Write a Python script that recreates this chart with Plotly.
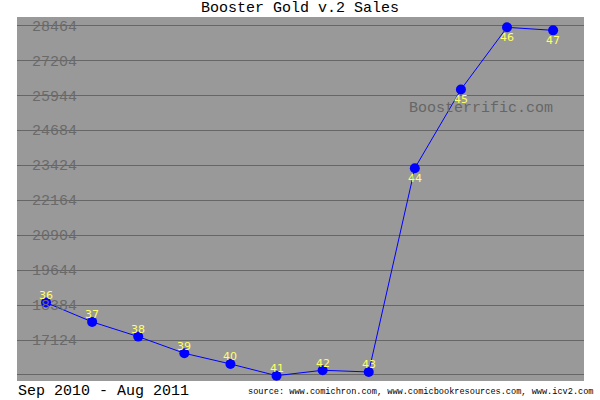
import plotly.graph_objects as go

# Booster Gold v.2 issues #36-#47 (Sep 2010 - Aug 2011)
issues = ["36", "37", "38", "39", "40", "41", "42", "43", "44", "45", "46", "47"]
sales = [18474, 17777, 17247, 16647, 16261, 15839, 16034, 15972, 23316, 26150, 28392, 28283]
label_above = [True, True, True, True, True, True, True, True, False, False, False, False]

y_ticks = [15864, 17124, 18384, 19644, 20904, 22164, 23424, 24684, 25944, 27204, 28464]

MONO = "Liberation Mono, DejaVu Sans Mono, monospace"

x_idx = list(range(len(issues)))

fig = go.Figure()
fig.add_trace(
    go.Scatter(
        x=x_idx,
        y=sales,
        mode="lines+markers",
        line=dict(color="#0000ff", width=1),
        marker=dict(color="#0000ff", size=10),
        hoverinfo="skip",
        showlegend=False,
    )
)

# issue number labels (yellow), above for the early issues, below for the later ones
for xi, yi, lab, up in zip(x_idx, sales, issues, label_above):
    fig.add_annotation(
        x=xi, y=yi, text=lab, showarrow=False,
        yshift=7 if up else -10,
        font=dict(family="DejaVu Sans, Verdana, sans-serif", size=11, color="#ffff66"),
    )

fig.add_annotation(
    xref="paper", yref="paper", x=0.818, y=0.75, xanchor="center", yanchor="middle",
    text="Boosterrific.com",
    showarrow=False, font=dict(family=MONO, size=15, color="#666666"),
)
fig.add_annotation(
    xref="paper", yref="paper", x=0.0, y=-0.03, xanchor="left", yanchor="middle",
    xshift=-1, text="Sep 2010 - Aug 2011", showarrow=False,
    font=dict(family=MONO, size=15, color="#000000"),
)
fig.add_annotation(
    xref="paper", yref="paper", x=1.0, y=-0.03, xanchor="right", yanchor="middle",
    xshift=12,
    text="source: www.comichron.com, www.comicbookresources.com, www.icv2.com",
    showarrow=False, font=dict(family=MONO, size=8.6, color="#000000"),
)

fig.update_layout(
    width=600,
    height=400,
    paper_bgcolor="#ffffff",
    plot_bgcolor="#999999",
    margin=dict(l=17, r=16, t=17, b=19),
    title=dict(
        text="Booster Gold v.2 Sales",
        x=0.5, xanchor="center", y=0.982, yanchor="middle",
        font=dict(family=MONO, size=15, color="#000000"),
    ),
    xaxis=dict(
        range=[-0.63, 11.67], showgrid=False, zeroline=False,
        showticklabels=False, ticks="", fixedrange=True,
    ),
    yaxis=dict(
        range=[15647, 28764], tickvals=y_ticks, ticktext=[str(v) for v in y_ticks],
        showgrid=True, gridcolor="#666666", gridwidth=1, zeroline=False,
        ticks="", ticklabelposition="inside", ticklabelstandoff=12,
        tickfont=dict(family=MONO, size=15, color="#6a6a6a"),
        fixedrange=True,
    ),
)

fig.write_html(
    "out.html",
    config={"displayModeBar": False},
    post_script="document.body.style.margin='0';document.body.style.overflow='hidden';",
)
